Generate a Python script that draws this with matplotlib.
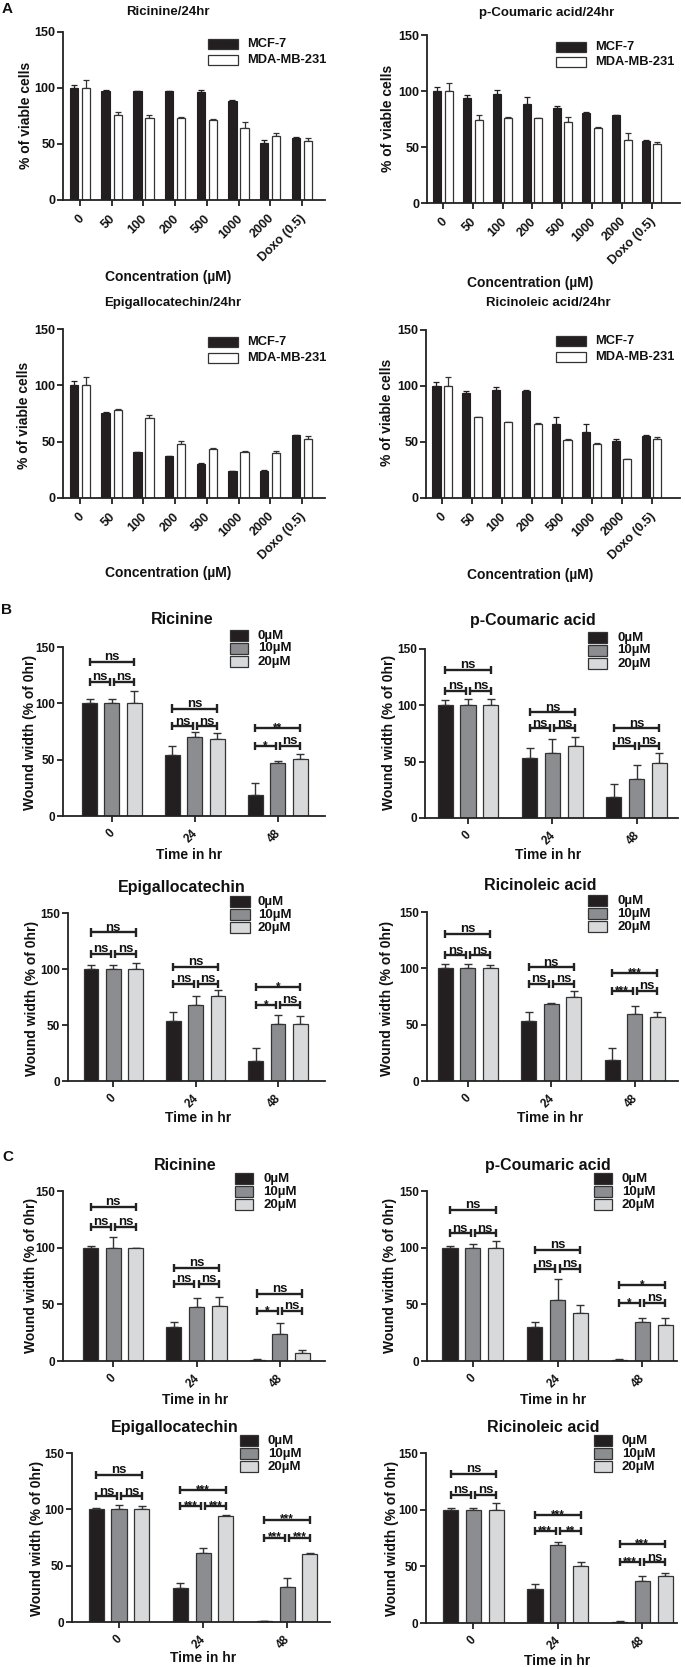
import matplotlib
matplotlib.use('Agg')
import matplotlib.pyplot as plt
import matplotlib.transforms as mtransforms
from matplotlib.patches import Rectangle
import numpy as np

plt.rcParams['font.family'] = ['Liberation Sans', 'DejaVu Sans']
plt.rcParams['font.weight'] = 'bold'

# ---------------- data ----------------
conc_labels = ['0', '50', '100', '200', '500', '1000', '2000', 'Doxo (0.5)']
cell_lines = ['MCF-7', 'MDA-MB-231']

ric24_mcf7 = [100, 97.5, 97, 97, 96.3, 88, 51.3, 55.8]
ric24_mcf7_err = [3, 0.5, 0.4, 0.4, 2, 1, 2, 0.8]
ric24_mda = [100, 76.3, 73, 73, 71.5, 64.4, 56.7, 53]
ric24_mda_err = [7.5, 2.5, 3, 0.8, 0.5, 5.4, 3, 2]

pcou24_mcf7 = [100, 94, 97.5, 88.5, 84.6, 80.5, 78.4, 55.5]
pcou24_mcf7_err = [3.3, 2, 3, 6, 2.4, 0.5, 0.3, 0.5]
pcou24_mda = [100, 73.7, 75.7, 75.7, 72.2, 67.4, 56.4, 53]
pcou24_mda_err = [7.5, 4.5, 1.5, 0.4, 5, 0.5, 6.5, 1.5]

egc24_mcf7 = [100, 75.4, 40.5, 37, 30.5, 23.7, 24.3, 55.6]
egc24_mcf7_err = [3.8, 1, 0.4, 0.5, 1, 0.3, 0.5, 0.5]
egc24_mda = [100, 78.4, 71.3, 48, 43.5, 41, 40, 52.7]
egc24_mda_err = [7.4, 0.5, 2.4, 2.6, 0.6, 0.4, 1.7, 2]

rco24_mcf7 = [100, 93.5, 96.2, 95.6, 66.2, 58.5, 51, 55.5]
rco24_mcf7_err = [3.8, 2, 3, 0.5, 6.5, 7.4, 1.5, 0.5]
rco24_mda = [100, 72.2, 68, 66, 51.4, 48.1, 34.7, 52.6]
rco24_mda_err = [7.7, 0.5, 0.3, 1, 1.5, 1, 0.5, 2]

time_labels = ['0', '24', '48']
dose_labels = ['0\u00b5M', '10\u00b5M', '20\u00b5M']

# rows: 0, 10, 20 uM ; columns: 0, 24, 48 hr
B_ric_mean = [[100, 53.7, 18.6], [100, 70.3, 47], [100, 68, 50.5]]
B_ric_err = [[4, 8.3, 11], [4, 4.4, 1.8], [11, 5.3, 4.4]]
B_ric_sig = [('ns', 'ns', 'ns'), ('ns', 'ns', 'ns'), ('**', '*', 'ns')]
B_ric_brk = [(136.7, 119), (95.4, 79.7), (78, 62)]

B_pcou_mean = [[100, 53.5, 18.7], [100, 57.9, 34.5], [100, 63.9, 49]]
B_pcou_err = [[4.5, 8.5, 11.3], [5.7, 12, 12.7], [5.7, 8, 8.3]]
B_pcou_sig = [('ns', 'ns', 'ns'), ('ns', 'ns', 'ns'), ('ns', 'ns', 'ns')]
B_pcou_brk = [(131.6, 113), (93.9, 79.6), (79.6, 64)]

B_egc_mean = [[100, 53.5, 18.2], [100, 68, 50.5], [100, 76, 51]]
B_egc_err = [[4, 8.3, 11.4], [4, 8, 8.7], [5.8, 5, 6.8]]
B_egc_sig = [('ns', 'ns', 'ns'), ('ns', 'ns', 'ns'), ('*', '*', 'ns')]
B_egc_brk = [(132.6, 113.8), (102, 87), (84, 67.8)]

B_rco_mean = [[100, 53, 18.3], [100, 68.3, 59.5], [100, 75, 56.5]]
B_rco_err = [[3.6, 8.3, 11.2], [3.6, 0.5, 7.3], [2.7, 4.9, 4.7]]
B_rco_sig = [('ns', 'ns', 'ns'), ('ns', 'ns', 'ns'), ('***', '***', 'ns')]
B_rco_brk = [(130.8, 111.5), (101, 86.4), (95.8, 79.9)]

C_ric_mean = [[100, 30, 1.2], [100, 48, 24.2], [100, 48.3, 7.4]]
C_ric_err = [[1.4, 4.5, 0.6], [9.6, 7.4, 9.4], [0, 8.3, 2]]
C_ric_sig = [('ns', 'ns', 'ns'), ('ns', 'ns', 'ns'), ('ns', '*', 'ns')]
C_ric_brk = [(136, 118.5), (82.2, 67.8), (59.5, 44.2)]

C_pcou_mean = [[100, 30, 1.2], [100, 53.6, 34.5], [100, 42.7, 32]]
C_pcou_err = [[1.4, 4.5, 0.5], [2.9, 18.6, 3.8], [5.8, 7, 6]]
C_pcou_sig = [('ns', 'ns', 'ns'), ('ns', 'ns', 'ns'), ('*', '*', 'ns')]
C_pcou_brk = [(133.2, 112.6), (97.8, 81.6), (66.9, 51.3)]

C_egc_mean = [[100, 30.5, 0.6], [100, 61.5, 30.8], [100, 94, 60]]
C_egc_err = [[1.5, 4.1, 0.5], [4.1, 4.4, 8.5], [3.2, 1.2, 1.5]]
C_egc_sig = [('ns', 'ns', 'ns'), ('***', '***', '***'), ('***', '***', '***')]
C_egc_brk = [(130.8, 111.5), (116.9, 102.7), (90.8, 74.9)]

C_rco_mean = [[100, 29.9, 0.9], [100, 68.9, 37.2], [100, 50.4, 41.3]]
C_rco_err = [[1.2, 4.7, 0.5], [1.2, 2.6, 4.4], [5.8, 3.8, 2.6]]
C_rco_sig = [('ns', 'ns', 'ns'), ('***', '***', '**'), ('***', '***', 'ns')]
C_rco_brk = [(131.8, 112.8), (95.2, 81.2), (69.7, 53.6)]

# ---------------- style ----------------
W, H = 685, 1667
fig = plt.figure(figsize=(W / 100, H / 100), dpi=100)

C_BLACK = '#231f20'
C_GRAY = '#8b8d90'
C_LIGHT = '#d8d9db'
C_EDGE = '#333333'
C_AX = '#222222'
dose_colors = [C_BLACK, C_GRAY, C_LIGHT]


def add_ax(l, r, t, b, xlim, fs=8.5):
    ax = fig.add_axes([l / W, 1 - b / H, (r - l) / W, (b - t) / H])
    ax.set_ylim(0, 150)
    ax.set_xlim(*xlim)
    ax.set_yticks([0, 50, 100, 150])
    for s in ['top', 'right']:
        ax.spines[s].set_visible(False)
    for s in ['left', 'bottom']:
        ax.spines[s].set_linewidth(1.3)
        ax.spines[s].set_color(C_AX)
    ax.tick_params(axis='both', length=4, width=1.3, color=C_AX,
                   labelsize=fs, pad=1.5, labelcolor='#111111')
    ax.patch.set_alpha(0)
    return ax


def ftext(x, y, s, **kw):
    ha = kw.pop('ha', 'center')
    va = kw.pop('va', 'center')
    fig.text(x / W, 1 - y / H, s, ha=ha, va=va, fontweight='bold',
             color='#111111', **kw)


def legend_boxes(x0, x1, ys, h, colors, labels, tx, fs):
    for y, c, lab in zip(ys, colors, labels):
        fig.patches.append(Rectangle((x0 / W, 1 - (y + h) / H), (x1 - x0) / W, h / H,
                                     transform=fig.transFigure, facecolor=c,
                                     edgecolor=C_EDGE, linewidth=0.9))
        ftext(tx, y + h / 2, lab, ha='left', fontsize=fs)


def rot_labels(ax, labels, pad, fs, dx=2):
    ax.set_xticklabels(labels, rotation=45, ha='right', va='center',
                       rotation_mode='anchor', fontsize=fs)
    ax.tick_params(axis='x', pad=pad)
    off = mtransforms.ScaledTranslation(dx / 100, 0, fig.dpi_scale_trans)
    for lab in ax.get_xticklabels():
        lab.set_transform(lab.get_transform() + off)


def panel_A(ax, m1, e1, m2, e2):
    x = np.arange(len(conc_labels))
    w, off = 0.27, 0.19
    z = np.zeros(len(x))
    ax.bar(x - off, m1, w, color=C_BLACK, edgecolor=C_BLACK, linewidth=0.8, zorder=2)
    ax.bar(x + off, m2, w, color='white', edgecolor=C_EDGE, linewidth=0.9, zorder=2)
    ax.errorbar(x - off, m1, yerr=[z, e1], fmt='none', ecolor=C_BLACK,
                elinewidth=0.9, capsize=2.2, capthick=0.9, zorder=1)
    ax.errorbar(x + off, m2, yerr=[z, e2], fmt='none', ecolor=C_EDGE,
                elinewidth=0.9, capsize=2.2, capthick=0.9, zorder=1)
    ax.set_xticks(x)
    rot_labels(ax, conc_labels, pad=8, fs=9, dx=2)


def bracket(ax, x1, x2, y, label):
    kw = dict(color=C_AX, lw=1.7, solid_capstyle='butt', clip_on=False)
    ax.plot([x1, x2], [y, y], **kw)
    ax.plot([x1, x1], [y - 3.6, y + 3.6], **kw)
    ax.plot([x2, x2], [y - 3.6, y + 3.6], **kw)
    if '*' in label:
        ax.text((x1 + x2) / 2, y - 2.5, label, ha='center', va='baseline',
                fontsize=8.5, fontweight='bold', color='#111111')
    else:
        ax.text((x1 + x2) / 2, y + 1.5, label, ha='center', va='baseline',
                fontsize=9.5, fontweight='bold', color='#111111')


def panel_wound(ax, means, errs, sigs, brk):
    x = np.arange(len(time_labels))
    w, off = 0.18, 0.27
    z = np.zeros(len(x))
    for i, (m, e, c) in enumerate(zip(means, errs, dose_colors)):
        xi = x + (i - 1) * off
        ax.bar(xi, m, w, color=c, edgecolor=C_EDGE, linewidth=0.9, zorder=2)
        ax.errorbar(xi, m, yerr=[z, e], fmt='none', ecolor=C_EDGE,
                    elinewidth=1.0, capsize=3.0, capthick=1.0, zorder=1)
    for g in range(len(x)):
        top, low = brk[g]
        s_top, s_l, s_r = sigs[g]
        bracket(ax, g - off, g + off, top, s_top)
        bracket(ax, g - off, g - 0.025, low, s_l)
        bracket(ax, g + 0.025, g + off, low, s_r)
    ax.set_xticks(x)
    rot_labels(ax, time_labels, pad=7, fs=8.5, dx=1)


# ---------------- panel A ----------------
A_specs = [
    # (l, r, t, b, xlim, data, title, title_xy, xlabel_xy, ylabel_xy, legend)
    (63, 325, 32, 200, (-0.54, 7.73), (ric24_mcf7, ric24_mcf7_err, ric24_mda, ric24_mda_err),
     'Ricinine/24hr', (168, 12), (168, 277), (26, 115), (208, 238, [39, 55], 247)),
    (427, 680, 35, 203, (-0.54, 7.95), (pcou24_mcf7, pcou24_mcf7_err, pcou24_mda, pcou24_mda_err),
     'p-Coumaric acid/24hr', (547, 13), (530, 283), (388, 118), (556, 586, [42, 57], 595)),
    (63, 325, 329, 498, (-0.54, 7.73), (egc24_mcf7, egc24_mcf7_err, egc24_mda, egc24_mda_err),
     'Epigallocatechin/24hr', (173, 303), (168, 573), (24, 415), (208, 238, [337, 353], 247)),
    (426, 680, 330, 498, (-0.54, 7.95), (rco24_mcf7, rco24_mcf7_err, rco24_mda, rco24_mda_err),
     'Ricinoleic acid/24hr', (548, 303), (530, 575), (387, 412), (556, 586, [336, 352], 595)),
]
for l, r, t, b, xl, dat, title, txy, xlxy, ylxy, leg in A_specs:
    ax = add_ax(l, r, t, b, xl, fs=9)
    panel_A(ax, *dat)
    ftext(txy[0], txy[1], title, fontsize=9.5)
    ftext(xlxy[0], xlxy[1], 'Concentration (\u00b5M)', fontsize=10)
    ftext(ylxy[0], ylxy[1], '% of viable cells', fontsize=10, rotation=90)
    legend_boxes(leg[0], leg[1], leg[2], 10, [C_BLACK, 'white'], cell_lines, leg[3], 9.3)

# ---------------- panels B & C ----------------
W_specs = [
    (63, 325, 647, 816, (-0.59, 2.57), (B_ric_mean, B_ric_err, B_ric_sig, B_ric_brk),
     'Ricinine', (182, 620), (189, 855), (30, 732), (230, 248, [630, 643, 656], 258)),
    (425, 678, 649, 818, (-0.51, 2.49), (B_pcou_mean, B_pcou_err, B_pcou_sig, B_pcou_brk),
     'p-Coumaric acid', (533, 621), (548, 855), (389, 732), (588, 607, [632, 645, 658], 617)),
    (68, 325, 913, 1081, (-0.55, 2.57), (B_egc_mean, B_egc_err, B_egc_sig, B_egc_brk),
     'Epigallocatechin', (182, 887), (198, 1118), (32, 998), (230, 250, [896, 909, 922], 258)),
    (427, 678, 912, 1081, (-0.49, 2.52), (B_rco_mean, B_rco_err, B_rco_sig, B_rco_brk),
     'Ricinoleic acid', (540, 885), (550, 1118), (387, 998), (588, 607, [895, 908, 921], 617)),
    (63, 325, 1191, 1361, (-0.6, 2.54), (C_ric_mean, C_ric_err, C_ric_sig, C_ric_brk),
     'Ricinine', (185, 1165), (195, 1400), (31, 1275), (235, 253, [1173, 1186, 1199], 263)),
    (427, 677, 1191, 1361, (-0.54, 2.41), (C_pcou_mean, C_pcou_err, C_pcou_sig, C_pcou_brk),
     'p-Coumaric acid', (548, 1165), (553, 1400), (390, 1275), (594, 612, [1173, 1186, 1199], 622)),
    (72, 330, 1453, 1622, (-0.56, 2.51), (C_egc_mean, C_egc_err, C_egc_sig, C_egc_brk),
     'Epigallocatechin', (175, 1427), (203, 1658), (37, 1538), (240, 258, [1435, 1448, 1461], 268)),
    (426, 677, 1453, 1623, (-0.56, 2.41), (C_rco_mean, C_rco_err, C_rco_sig, C_rco_brk),
     'Ricinoleic acid', (543, 1427), (557, 1661), (392, 1538), (594, 612, [1435, 1448, 1461], 622)),
]
for l, r, t, b, xl, dat, title, txy, xlxy, ylxy, leg in W_specs:
    ax = add_ax(l, r, t, b, xl)
    panel_wound(ax, *dat)
    ftext(txy[0], txy[1], title, fontsize=11.5)
    ftext(xlxy[0], xlxy[1], 'Time in hr', fontsize=10)
    ftext(ylxy[0], ylxy[1], 'Wound width (% of 0hr)', fontsize=10, rotation=90)
    legend_boxes(leg[0], leg[1], leg[2], 11, dose_colors, dose_labels, leg[3], 9.5)

# panel letters
ftext(7, 9, 'A', fontsize=11)
ftext(7, 610, 'B', fontsize=11)
ftext(8, 1157, 'C', fontsize=11)

fig.savefig('out.png', dpi=100)
